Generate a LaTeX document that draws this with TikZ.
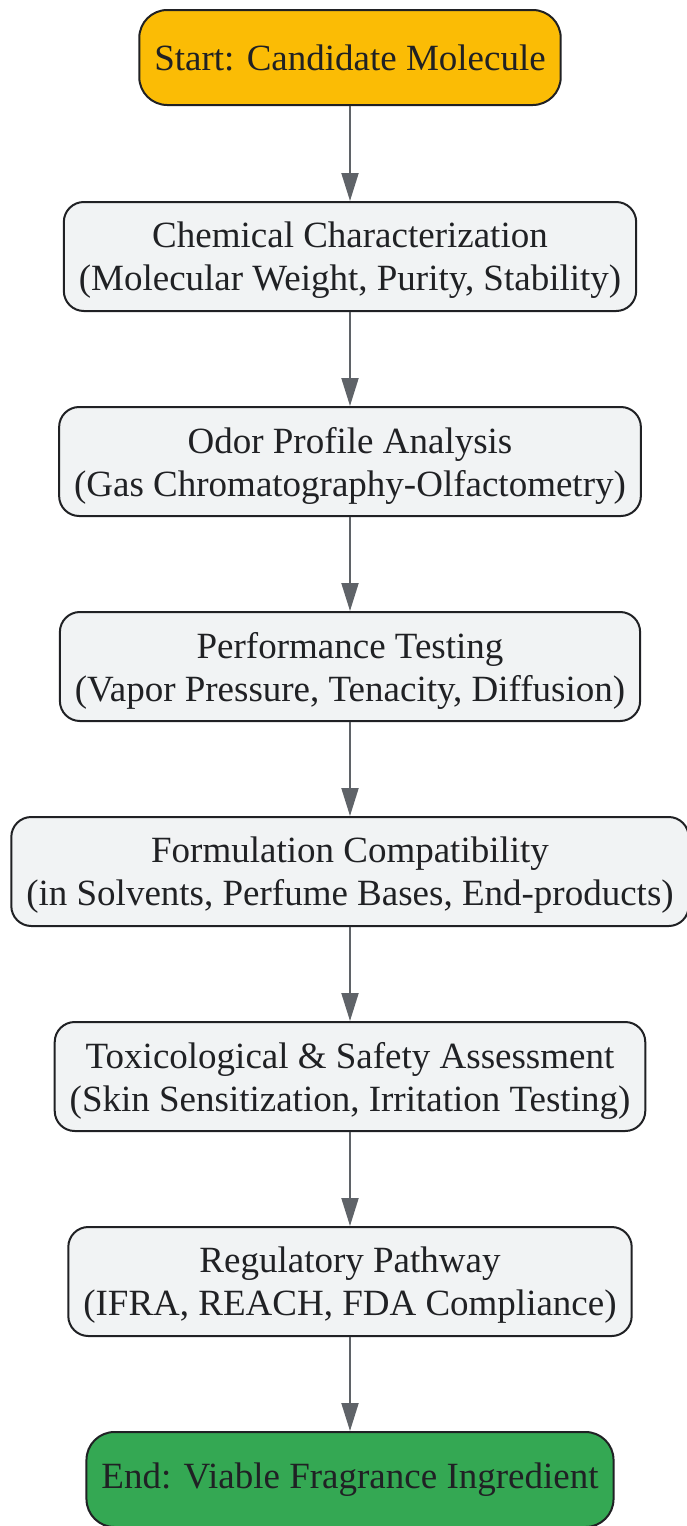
\documentclass[tikz,border=0pt]{standalone}
\usepackage{fontspec}
\setmainfont{Liberation Serif}
\usetikzlibrary{arrows.meta}

\definecolor{startyellow}{HTML}{FBBC05}
\definecolor{endgreen}{HTML}{34A853}
\definecolor{stepgray}{HTML}{F1F3F4}
\definecolor{edgegray}{HTML}{5F6368}
\definecolor{inkdark}{HTML}{202124}

\begin{document}
\begin{tikzpicture}[-{Triangle[length=28pt,width=17pt]},line width=2pt,node distance=205pt,
		font=\fontsize{37}{43}\selectfont,
		main node/.style={rectangle,rounded corners=20pt,draw=inkdark,fill=stepgray,text=inkdark,
			align=center,minimum height=109pt,inner xsep=15pt,text depth=0pt},
		term node/.style={main node,rounded corners=28pt,minimum height=95pt,text depth=},]
	\useasboundingbox (0,0) rectangle (687pt,-1526pt);
	\node[term node,fill=startyellow] (0) at (350pt,-57.5pt) {Start: Candidate Molecule};
	\node[main node] (1) [below of=0,node distance=199pt] {Chemical Characterization\\(Molecular Weight, Purity, Stability)};
	\node[main node] (2) [below of=1] {Odor Profile Analysis\\(Gas Chromatography-Olfactometry)};
	\node[main node] (3) [below of=2] {Performance Testing\\(Vapor Pressure, Tenacity, Diffusion)};
	\node[main node] (4) [below of=3] {Formulation Compatibility\\(in Solvents, Perfume Bases, End-products)};
	\node[main node] (5) [below of=4] {Toxicological \& Safety Assessment\\(Skin Sensitization, Irritation Testing)};
	\node[main node] (6) [below of=5] {Regulatory Pathway\\(IFRA, REACH, FDA Compliance)};
	\node[term node,fill=endgreen] (7) [below of=6,node distance=198pt] {End: Viable Fragrance Ingredient};
	\path[draw=edgegray,fill=edgegray]
		(0) edge (1)
		(1) edge (2)
		(2) edge (3)
		(3) edge (4)
		(4) edge (5)
		(5) edge (6)
		(6) edge (7);
\end{tikzpicture}
\end{document}
